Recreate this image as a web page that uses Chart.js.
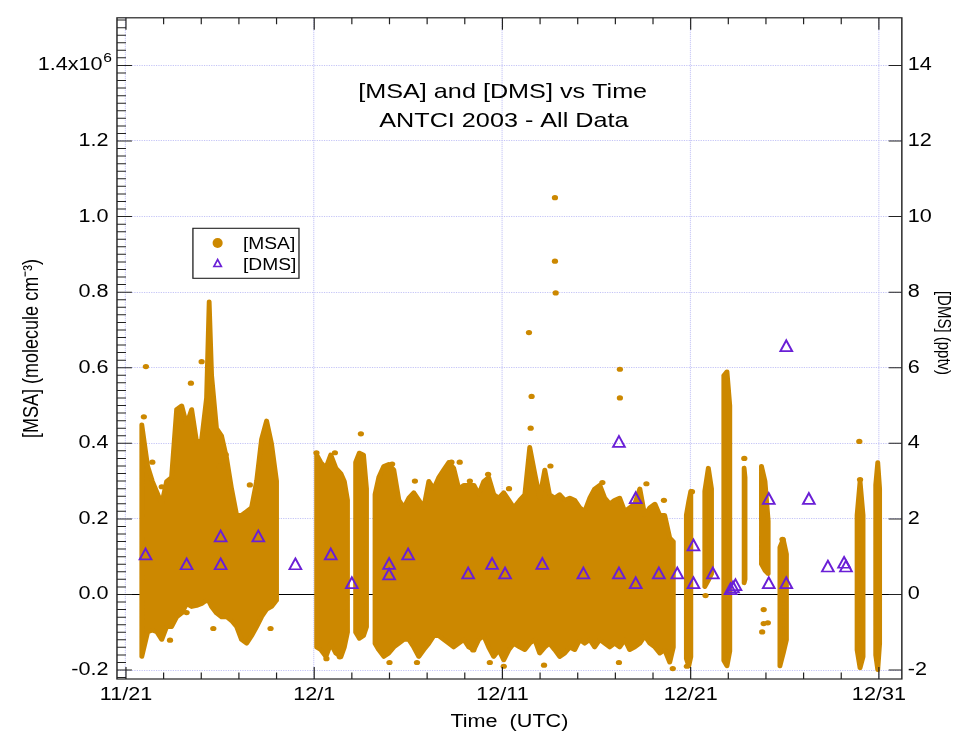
<!DOCTYPE html>
<html>
<head>
<meta charset="utf-8">
<script src="https://cdn.jsdelivr.net/npm/chart.js@4.4.0/dist/chart.umd.min.js"></script>
<style>
  html, body { margin: 0; padding: 0; background: #fff; }
  #myChart { display: block; width: 955px; height: 733px; }
</style>
</head>
<body>
<canvas id="myChart" width="796" height="733" style="width:955px;height:733px"></canvas>
<script>
// time axis: days after 11/21 00 UTC; MSA in 1e6 molecule cm-3; DMS in pptv
const tickDays = [0, 10, 20, 30, 40];
const tickLabels = ["11/21", "12/1", "12/11", "12/21", "12/31"];
const msaTicks = [-0.2, 0, 0.2, 0.4, 0.6, 0.8, 1.0, 1.2, 1.4];
const dmsTicks = [-2, 0, 2, 4, 6, 8, 10, 12, 14];

// dense MSA cloud, read as low/high envelope per time slice
const msaBandDays = [
  0.84, 1.15, 1.4, 1.65, 1.9,
  2.16, 2.42, 2.69, 2.96, 3.22, 3.49, 3.75, 4.02, 4.28, 4.42, 4.55, 4.81, 5.08, 5.35, 5.61,
  5.88, 6.14, 6.41, 6.67, 6.94, 7.2, 7.47, 7.73, 8.0,
  10.13, 10.35, 10.62, 10.88, 11.15, 11.42, 11.6, 11.77,
  12.2, 12.4, 12.62, 12.78,
  13.23, 13.43, 13.7, 13.96, 14.23, 14.5, 14.76, 15.03, 15.29, 15.56, 15.82, 16.09, 16.35,
  16.62, 16.88, 17.15, 17.41, 17.68, 17.95, 18.21, 18.48, 18.74, 19.01, 19.27, 19.54, 19.81,
  20.07, 20.34, 20.6, 20.92, 21.19, 21.45, 21.72, 21.98, 22.25, 22.5, 22.78, 23.04, 23.31,
  23.58, 23.84, 24.11, 24.37, 24.64, 24.9, 25.17, 25.43, 25.7, 25.96, 26.23, 26.5, 26.76,
  27.03, 27.3, 27.56, 27.83, 28.1, 28.36, 28.62, 28.89, 29.08,
  29.77, 29.9, 30.01,
  30.75, 30.94, 31.11,
  31.76, 31.93, 32.08,
  32.84, 32.89,
  33.76, 33.95, 34.12,
  34.74, 34.92, 35.09,
  38.84, 39.0, 39.16,
  39.83, 39.94, 40.04
];
const msaBandLow = [
  -0.165, -0.10, -0.095, -0.10, -0.12,
  -0.086, -0.086, -0.06, -0.05, -0.025, -0.033, -0.03, -0.025, -0.016, -0.02, -0.033, -0.05, -0.06, -0.06, -0.07,
  -0.086, -0.12, -0.13, -0.11, -0.086, -0.06, -0.04, -0.033, -0.016,
  -0.14, -0.147, -0.165, -0.13, -0.156, -0.165, -0.14, -0.10,
  -0.10, -0.117, -0.11, -0.086,
  -0.13, -0.147, -0.165, -0.156, -0.14, -0.13, -0.12, -0.12, -0.14, -0.165, -0.147, -0.13, -0.11,
  -0.11, -0.12, -0.13, -0.14, -0.13, -0.12, -0.14, -0.147, -0.12, -0.11, -0.14, -0.165, -0.147,
  -0.174, -0.147, -0.13, -0.14, -0.147, -0.13, -0.12, -0.156, -0.14, -0.13, -0.147, -0.165, -0.156,
  -0.14, -0.147, -0.12, -0.13, -0.12, -0.14, -0.12, -0.13, -0.14, -0.13, -0.14, -0.12, -0.147,
  -0.14, -0.13, -0.11, -0.13, -0.14, -0.156, -0.147, -0.18, -0.14,
  -0.17, -0.19, -0.165,
  0.02, 0.037, 0.054,
  -0.175, -0.19, -0.15,
  0.03, 0.04,
  0.08, 0.063, 0.054,
  -0.19, -0.156, -0.12,
  -0.147, -0.195, -0.165,
  -0.16, -0.2, -0.13
];
const msaBandHigh = [
  0.45, 0.34, 0.30, 0.27, 0.24,
  0.30, 0.31, 0.49, 0.50, 0.45, 0.49, 0.405, 0.41, 0.52, 0.775, 0.58, 0.44, 0.42, 0.36, 0.28,
  0.21, 0.21, 0.22, 0.23, 0.30, 0.41, 0.46, 0.40, 0.30,
  0.37, 0.35, 0.335, 0.37, 0.335, 0.32, 0.30, 0.25,
  0.35, 0.375, 0.37, 0.28,
  0.265, 0.31, 0.34, 0.345, 0.33, 0.25, 0.23, 0.256, 0.27, 0.25, 0.23, 0.30, 0.28,
  0.31, 0.33, 0.35, 0.335, 0.28, 0.29, 0.29, 0.29, 0.265, 0.30, 0.31, 0.265, 0.256,
  0.27, 0.25, 0.23, 0.25, 0.265, 0.39, 0.32, 0.256, 0.33, 0.265, 0.256, 0.265, 0.25,
  0.256, 0.25, 0.23, 0.22, 0.256, 0.28, 0.29, 0.256, 0.24, 0.25, 0.256, 0.22, 0.23,
  0.24, 0.28, 0.21, 0.23, 0.24, 0.21, 0.21, 0.15, 0.14,
  0.21, 0.247, 0.274,
  0.274, 0.335, 0.28,
  0.58, 0.59, 0.50,
  0.335, 0.31,
  0.34, 0.30, 0.195,
  0.125, 0.146, 0.107,
  0.21, 0.30, 0.21,
  0.29, 0.35, 0.28
];
// index where each separate strip of the cloud begins
const msaSegmentStarts = [0, 29, 37, 41, 102, 105, 108, 111, 113, 116, 119, 122];

// isolated MSA points outside the dense cloud
const msaDotDays = [
  0.95, 1.06, 1.4, 1.9, 2.34, 3.22, 3.45, 4.02, 4.64, 4.97, 5.3, 6.58, 7.68,
  10.12, 10.65, 11.1, 11.36, 12.48, 14.0, 14.14, 15.35, 15.46, 17.29, 17.73, 18.27, 18.45,
  19.24, 19.33, 20.07, 20.35, 21.41, 21.5, 21.55, 22.21, 22.55, 22.79, 22.79, 22.83,
  25.31, 26.19, 26.24, 26.24, 27.65, 28.58, 29.05, 29.8, 30.07, 30.79, 32.85,
  33.8, 33.88, 33.88, 34.1, 34.88, 38.96, 39.0
];
const msaDotValues = [
  0.47, 0.603, 0.35, 0.285, -0.121, -0.048, 0.559, 0.616, -0.09, 0.34, 0.37, 0.29, -0.09,
  0.375, -0.17, 0.375, -0.165, 0.425, -0.18, 0.345, 0.30, -0.18, 0.35, 0.35, 0.30, -0.147,
  0.318, -0.18, -0.19, 0.28, 0.693, 0.44, 0.524, -0.187, 0.34, 1.05, 0.882, 0.798,
  0.296, -0.18, 0.596, 0.52, 0.293, 0.249, -0.196, -0.19, 0.272, -0.003, 0.36,
  -0.099, -0.04, -0.077, -0.075, 0.146, 0.405, 0.304
];

const dmsDays = [
  1.04, 3.22, 5.03, 5.03, 7.03, 9.0, 10.88, 12.0, 13.98, 13.98, 14.99, 18.18, 19.45, 20.14,
  22.12, 24.3, 26.19, 26.19, 27.08, 27.08, 28.31, 29.29, 30.15, 30.15, 31.18, 32.12, 32.25,
  32.38, 34.15, 34.15, 35.08, 35.08, 36.28, 37.29, 38.15, 38.25
];
const dmsValues = [
  1.07, 0.81, 1.55, 0.81, 1.55, 0.81, 1.07, 0.31, 0.82, 0.54, 1.07, 0.57, 0.82, 0.57,
  0.82, 0.57, 4.05, 0.57, 2.56, 0.31, 0.57, 0.57, 1.31, 0.31, 0.57, 0.15, 0.2,
  0.26, 2.54, 0.31, 6.58, 0.31, 2.54, 0.75, 0.85, 0.75
];

const msaColor = "#cc8800";
const dmsColor = "#6a1fd6";
const gridColor = "rgb(196,196,246)";
const fontFamily = '"Liberation Sans", Arial, Helvetica, sans-serif';
const stretchX = 955 / 796;

Chart.defaults.font.family = fontFamily;
Chart.defaults.color = "#000";

// outline of each strip: upper envelope forward, lower envelope back, closed, then a break
const cloudOutline = [];
msaSegmentStarts.forEach((s, k) => {
  const e = k + 1 < msaSegmentStarts.length ? msaSegmentStarts[k + 1] : msaBandDays.length;
  for (let i = s; i < e; i++) cloudOutline.push({ x: msaBandDays[i], y: msaBandHigh[i] });
  for (let i = e - 1; i >= s; i--) cloudOutline.push({ x: msaBandDays[i], y: msaBandLow[i] });
  cloudOutline.push({ x: msaBandDays[s], y: msaBandHigh[s] });
  cloudOutline.push({ x: msaBandDays[s], y: null });
});

function drawTriangle(ctx, x, y, hw, hh, lw) {
  ctx.save();
  ctx.strokeStyle = dmsColor;
  ctx.lineWidth = lw;
  ctx.lineJoin = "miter";
  ctx.beginPath();
  ctx.moveTo(x, y - hh);
  ctx.lineTo(x + hw, y + hh);
  ctx.lineTo(x - hw, y + hh);
  ctx.closePath();
  ctx.stroke();
  ctx.restore();
}

const decorations = {
  id: "decorations",
  beforeDatasetsDraw(chart) {
    const { ctx, chartArea: a, scales } = chart;
    const y0 = scales.y.getPixelForValue(0);
    ctx.save();
    ctx.strokeStyle = "#000";
    ctx.lineWidth = 1;
    ctx.beginPath();
    ctx.moveTo(a.left, y0);
    ctx.lineTo(a.right, y0);
    ctx.stroke();
    ctx.restore();
  },
  afterDatasetsDraw(chart) {
    const { ctx, chartArea: a, scales } = chart;

    // DMS markers at the positions the scatter dataset computed
    chart.getDatasetMeta(0).data.forEach(p => drawTriangle(ctx, p.x, p.y, 4.9, 5.4, 1.7));

    ctx.save();
    ctx.strokeStyle = "#222";
    ctx.lineWidth = 1.2;
    ctx.strokeRect(a.left, a.top, a.right - a.left, a.bottom - a.top);

    // inside ticks
    ctx.lineWidth = 1;
    ctx.beginPath();
    for (let k = -11; k <= 76; k++) {
      const py = scales.y.getPixelForValue(k / 50);
      if (py < a.top || py > a.bottom) continue;
      const len = k % 10 === 0 ? 12.5 : 7.5;
      ctx.moveTo(a.left, py);
      ctx.lineTo(a.left + len, py);
    }
    dmsTicks.forEach(v => {
      const py = scales.y2.getPixelForValue(v);
      ctx.moveTo(a.right, py);
      ctx.lineTo(a.right - 11, py);
    });
    for (let d = 0; d <= 40; d += 2) {
      const px = scales.x.getPixelForValue(d);
      const len = d % 10 === 0 ? 12 : 6.5;
      ctx.moveTo(px, a.bottom);
      ctx.lineTo(px, a.bottom - len);
      ctx.moveTo(px, a.top);
      ctx.lineTo(px, a.top + len);
    }
    ctx.stroke();

    // exponent of the top left tick label
    ctx.fillStyle = "#000";
    ctx.textAlign = "left";
    ctx.textBaseline = "alphabetic";
    ctx.font = "13px " + fontFamily;
    ctx.fillText("6", 86, scales.y.getPixelForValue(1.4) - 3);

    // title inside the plot
    ctx.textAlign = "center";
    ctx.font = "21px " + fontFamily;
    ctx.fillText("[MSA] and [DMS] vs Time", 419, 98);
    ctx.fillText("ANTCI 2003 - All Data", 420, 127);

    // legend box
    ctx.strokeStyle = "#222";
    ctx.lineWidth = 1.1;
    ctx.strokeRect(160.8, 228.3, 88.4, 50);
    ctx.fillStyle = msaColor;
    ctx.beginPath();
    ctx.ellipse(181.4, 243, 4.2, 5, 0, 0, Math.PI * 2);
    ctx.fill();
    drawTriangle(ctx, 181.4, 263, 3.1, 3.5, 1.5);
    ctx.fillStyle = "#000";
    ctx.textAlign = "left";
    ctx.font = "16px " + fontFamily;
    ctx.fillText("[MSA]", 202.5, 248.5);
    ctx.fillText("[DMS]", 202.5, 270);

    // right axis title
    ctx.translate(786, 333);
    ctx.rotate(Math.PI / 2);
    ctx.textAlign = "center";
    ctx.textBaseline = "middle";
    ctx.font = "15px " + fontFamily;
    ctx.fillText("[DMS] (pptv)", 0, 0);
    ctx.restore();
  }
};

const config = {
  type: "scatter",
  data: {
    datasets: [
      {
        label: "[DMS]",
        data: dmsDays.map((d, i) => ({ x: d, y: dmsValues[i] })),
        yAxisID: "y2",
        pointRadius: 0,
        pointHoverRadius: 0,
        order: 0,
      },
      {
        label: "[MSA]",
        data: msaDotDays.map((d, i) => ({ x: d, y: msaDotValues[i] })),
        yAxisID: "y",
        backgroundColor: msaColor,
        borderWidth: 0,
        pointRadius: 2.6,
        order: 1,
      },
      {
        label: "[MSA] cloud",
        data: cloudOutline,
        yAxisID: "y",
        showLine: true,
        spanGaps: false,
        fill: "shape",
        tension: 0,
        backgroundColor: msaColor,
        borderColor: msaColor,
        borderWidth: 4,
        borderJoinStyle: "round",
        borderCapStyle: "round",
        pointRadius: 0,
        pointHoverRadius: 0,
        order: 2,
      },
    ],
  },
  options: {
    responsive: false,
    animation: false,
    devicePixelRatio: 1,
    layout: { padding: { top: 14, left: 0, right: 0, bottom: 0 } },
    plugins: { legend: { display: false }, tooltip: { enabled: false } },
    scales: {
      x: {
        type: "linear",
        position: "bottom",
        min: -0.478,
        max: 41.22,
        afterBuildTicks: s => { s.ticks = tickDays.map(v => ({ value: v })); },
        afterFit: s => { s.height = 54; },
        ticks: {
          autoSkip: false,
          maxRotation: 0,
          padding: 5,
          font: { size: 18 },
          callback: v => tickLabels[tickDays.indexOf(v)],
        },
        grid: { color: gridColor, drawTicks: false },
        border: { display: false, dash: [1, 1] },
        title: { display: true, text: "Time  (UTC)", font: { size: 18 }, padding: { top: 0, bottom: 0 } },
      },
      y: {
        type: "linear",
        position: "left",
        min: -0.2237,
        max: 1.526,
        afterBuildTicks: s => { s.ticks = msaTicks.map(v => ({ value: v })); },
        afterFit: s => { s.width = 97.5; },
        ticks: {
          padding: 7,
          font: { size: 18 },
          callback: v => (v === 1.4 ? "1.4x10 " : v.toFixed(1)),
        },
        grid: { color: gridColor, drawTicks: false },
        border: { display: false, dash: [1, 1] },
        title: { display: true, text: "[MSA] (molecule cm\u207B\u00B3)", font: { size: 18 }, padding: { top: 16, bottom: 0 } },
      },
      y2: {
        type: "linear",
        position: "right",
        min: -2.237,
        max: 15.26,
        afterBuildTicks: s => { s.ticks = dmsTicks.map(v => ({ value: v })); },
        afterFit: s => { s.width = 44.3; },
        ticks: { padding: 5, font: { size: 18 }, callback: v => String(v) },
        grid: { display: false, drawTicks: false },
        border: { display: false },
      },
    },
  },
  plugins: [decorations],
};

const canvas = document.getElementById("myChart");
const myChart = new Chart(canvas, config);

// the reference is stretched horizontally: widen the bitmap and redraw with a 1.2x x-scale
canvas.width = 955;
canvas.getContext("2d").setTransform(stretchX, 0, 0, 1, 0, 0);
myChart.draw();
</script>
</body>
</html>
